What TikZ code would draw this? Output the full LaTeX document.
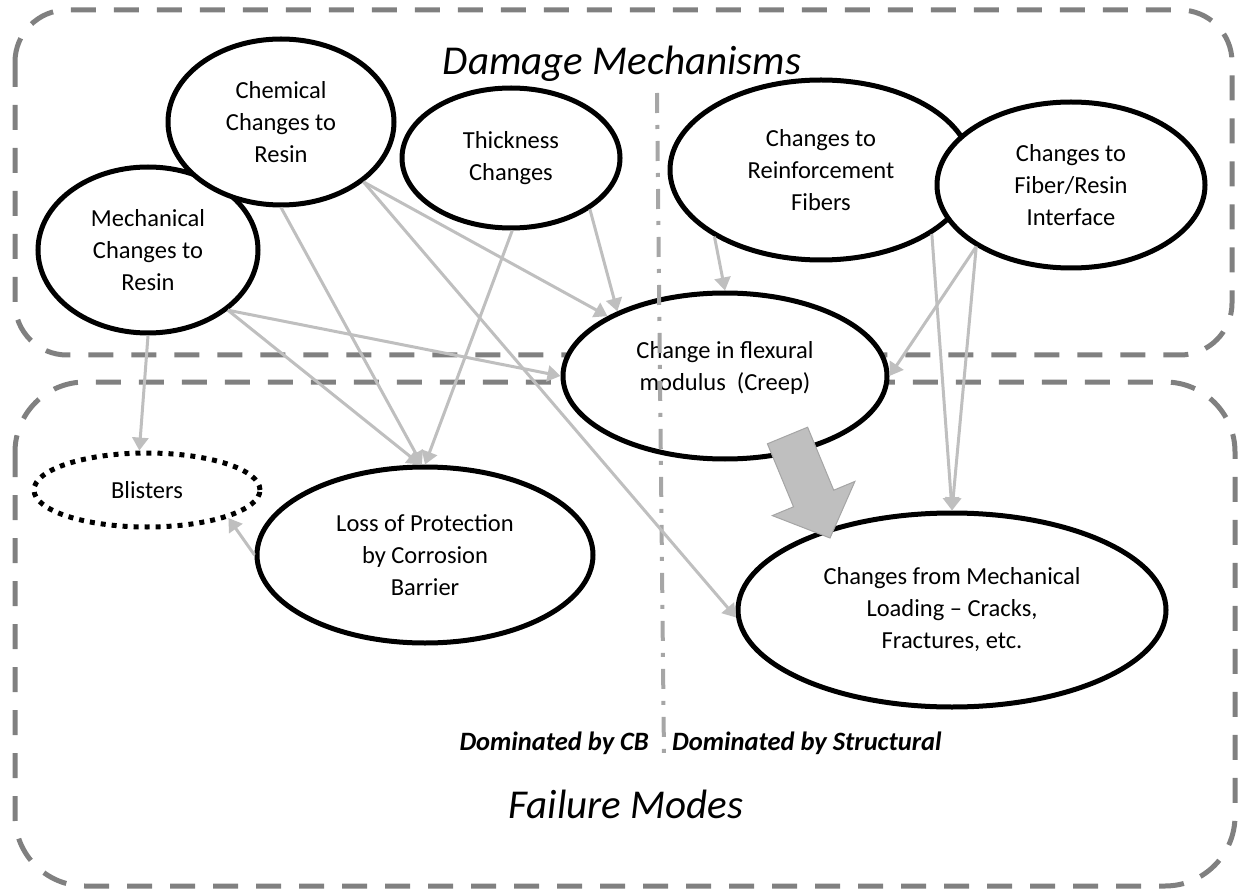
\documentclass[tikz,border=0pt]{standalone}
\usepackage{fontspec}
\setmainfont{Carlito}
\usetikzlibrary{shapes.geometric,arrows.meta}
\definecolor{boxgray}{RGB}{128,128,128}
\definecolor{arrgray}{RGB}{191,191,191}
\definecolor{divgray}{RGB}{166,166,166}
\definecolor{bigedge}{RGB}{165,165,165}
\begin{document}
\begin{tikzpicture}[x=1pt,y=-1pt,
  mech/.style={ellipse, draw=black, line width=5pt, fill=white, inner sep=0pt,
    align=center, font=\fontsize{24.5}{32}\selectfont},
  link/.style={draw=arrgray, line width=3pt, -{Triangle[length=13pt,width=16pt]}},
  region/.style={draw=boxgray, line width=5pt, dash pattern=on 25pt off 18pt},
  divider/.style={draw=divgray, line width=4pt, dash pattern=on 20pt off 12pt on 4pt off 12pt},
  title/.style={font=\fontsize{41}{48}\selectfont\itshape, anchor=base, inner sep=0pt},
  side/.style={font=\fontsize{26.5}{30}\selectfont\bfseries\itshape, anchor=base, inner sep=0pt}
]
\useasboundingbox (0,0) rectangle (1239,890);
% regions
\draw[region, rounded corners=52pt] (15,10) rectangle (1232,355);
\draw[region, rounded corners=70pt] (15,382) rectangle (1235,886);

% ellipses
\node[mech, minimum width=220pt, minimum height=166pt] (mech) at (148,250) {Mechanical\\Changes to\\Resin};
\node[mech, minimum width=226pt, minimum height=166pt] (chem) at (281,122) {Chemical\\Changes to\\Resin};
\node[mech, minimum width=218pt, minimum height=140pt] (thick) at (511,158) {Thickness\\Changes};
\node[mech, minimum width=302pt, minimum height=180pt] (reinf) at (821,170) {Changes to\\Reinforcement\\Fibers};
\node[mech, minimum width=268pt, minimum height=166pt] (iface) at (1071,185) {Changes to\\Fiber/Resin\\Interface};
\node[mech, minimum width=324pt, minimum height=166pt] (creep) at (725,376) {Change in flexural\\modulus\ \ (Creep)\\[-12pt]\mbox{}};
\node[mech, minimum width=226pt, minimum height=74pt, dash pattern=on 5pt off 6pt] (blis) at (147,490) {Blisters};
\node[mech, minimum width=336pt, minimum height=176pt] (loss) at (425,555) {Loss of Protection\\by Corrosion\\Barrier};
\node[mech, minimum width=428pt, minimum height=194pt] (load) at (952,610) {Changes from Mechanical\\Loading -- Cracks,\\Fractures, etc.};

% divider
\draw[divider] (657,93) -- (664,757);

% titles
\node[title] (tdm) at (622,75) {Damage Mechanisms};
\node[title] (tfm) at (626,818) {Failure Modes};
\node[side, anchor=base east] (tcb) at (649,750) {Dominated by CB};
\node[side, anchor=base west] (tst) at (672,750) {Dominated by Structural};

% links
\draw[link] (mech.south) -- (blis.101);
\draw[link] (mech.-37) -- (creep.west);
\draw[link] (mech.-37) -- (loss.93);
\draw[link] (chem.270) -- (loss.92);
\draw[link] (chem.-36.5) -- (creep.153);
\draw[link] (chem.-36.5) -- (load.182);
\draw[link] (thick.271.6) -- (loss.90);
\draw[link] (thick.-33.4) -- (creep.149);
\draw[link] (reinf.212) -- (creep.north);
\draw[link] (reinf.330) -- (load.north);
\draw[link] (iface.213) -- (creep.east);
\draw[link] (iface.213) -- (load.north);
\draw[link] (loss.west) -- (blis.341);

% big arrow
\filldraw[fill=arrgray, draw=bigedge, line width=1pt]
  (807.6,427.2) -- (833.7,490.2) -- (854.9,481.4) -- (830,538)
  -- (772.3,515.6) -- (793.5,506.8) -- (767.4,443.8) -- cycle;
\end{tikzpicture}
\end{document}
